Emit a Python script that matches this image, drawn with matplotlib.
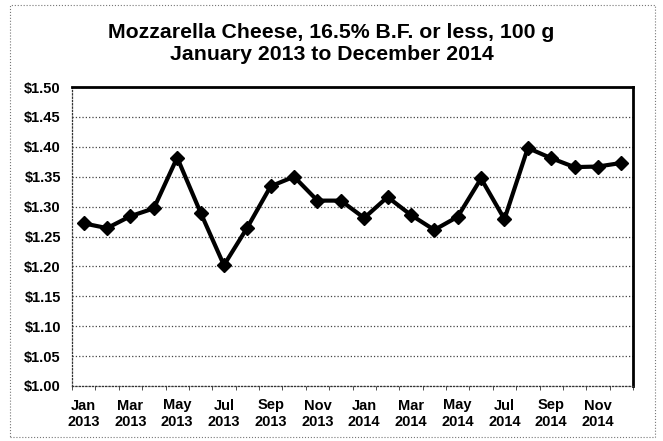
import matplotlib.pyplot as plt
import numpy as np
from matplotlib.patches import Rectangle

months = ['Jan', 'Feb', 'Mar', 'Apr', 'May', 'Jun',
          'Jul', 'Aug', 'Sep', 'Oct', 'Nov', 'Dec']
years = ['2013', '2014']
prices = [1.272, 1.264, 1.284, 1.297, 1.382, 1.290,
          1.202, 1.265, 1.334, 1.350, 1.310, 1.310,
          1.281, 1.316, 1.286, 1.261, 1.283, 1.347,
          1.279, 1.398, 1.381, 1.366, 1.367, 1.373]
y_ticks = [1.00, 1.05, 1.10, 1.15, 1.20, 1.25, 1.30, 1.35, 1.40, 1.45, 1.50]

plt.rcParams['font.family'] = ['Liberation Sans', 'DejaVu Sans']

fig = plt.figure(figsize=(6.63, 4.41), dpi=100)
ax = fig.add_axes([72 / 663, 1 - 386 / 441, 561 / 663, 299 / 441])

x = np.arange(len(prices))
ax.plot(x, prices, color='black', lw=3, marker='D', ms=7,
        markerfacecolor='black', markeredgecolor='black', zorder=5)

ax.set_xlim(-0.5, len(prices) - 0.5)
ax.set_ylim(1.00, 1.50)
ax.set_yticks(y_ticks)
ax.set_yticklabels([f'${v:.2f}' for v in y_ticks], fontsize=10.5, fontweight='bold')

labels = [f'{m}\n{y}' for y in years for m in months]
ax.set_xticks(x[::2])
ax.set_xticklabels(labels[::2], fontsize=10.5, fontweight='bold', linespacing=1.25)
ax.set_xticks(np.arange(-0.5, len(prices)), minor=True)
ax.tick_params(axis='x', which='major', length=0, pad=9)
ax.tick_params(axis='x', which='minor', length=3, color='#333333')
ax.tick_params(axis='y', length=0, pad=8)

ax.grid(True, axis='y', linestyle=':', color='#444444', lw=0.9)
ax.set_axisbelow(True)
for side in ['top', 'right']:
    ax.spines[side].set_linewidth(2)
for side in ['left', 'bottom']:
    ax.spines[side].set_linewidth(0.9)
    ax.spines[side].set_linestyle(':')
    ax.spines[side].set_color('#333333')

fig.text(0.5, 1 - 32 / 441, 'Mozzarella Cheese, 16.5% B.F. or less, 100 g',
         ha='center', va='center', fontsize=15.3, fontweight='bold')
fig.text(0.5, 1 - 54 / 441, 'January 2013 to December 2014',
         ha='center', va='center', fontsize=15.3, fontweight='bold')

# thin border round the chart area
fig.patches.append(Rectangle((10 / 663, 0.01), 645 / 663, 1 - 5 / 441 - 0.01,
                             transform=fig.transFigure, fill=False,
                             edgecolor='#777777', lw=0.8, ls=':'))

fig.savefig('out.png', dpi=100)
